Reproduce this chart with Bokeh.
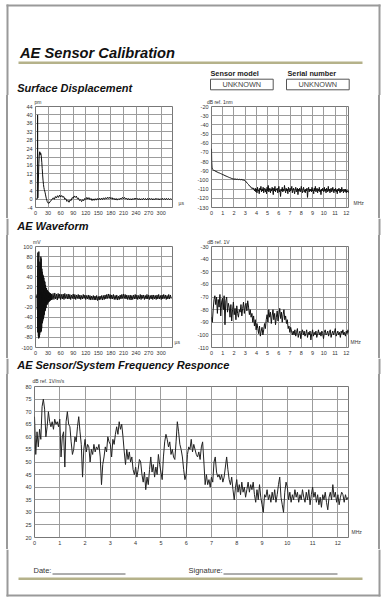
import numpy as np
from bokeh.plotting import figure
from bokeh.layouts import column, row
from bokeh.models import Range1d, FixedTicker, LinearAxis, Spacer
from bokeh.embed import file_html
from bokeh.resources import INLINE
from bokeh.core.properties import value

FONT = "Liberation Sans"
BORDER = "#9a9a9a"
GRID = "#9c9c9c"
OUTLINE = "#777777"
OLIVE = "#b5b28a"
TRACE = "#111111"

# ---------------- data ----------------
# Surface displacement (pm) vs time (us)
sd_pulse_t = [0, 1, 2, 3, 4, 4.5, 5, 5.5, 6, 7, 8, 9, 10, 11, 12, 13, 14, 15, 16, 17, 18, 19, 20,
              21, 22, 23, 24, 25, 26, 27, 28, 29, 30, 31, 32, 33, 34, 35, 36, 37, 38, 39, 40]
sd_pulse_v = [0, 0.1, -0.1, 0.2, 0, 0.3, 40, 0.5, 3, 10, 17, 21, 22.5, 21, 22, 21.5, 20, 17.5, 14.5,
              11.5, 9, 7, 5.5, 4.5, 3.8, 3, 2, 1, 0.2, -0.5, -1.2, -1.6, -1.9, -2, -1.7, -1.9, -1.4,
              -1.2, -0.9, -0.8, -0.4, -0.3, 0]
sd_tail_t0, sd_tail_dt = 42.5, 2.5
sd_tail_v = [0.6, -0.1, 1.2, 0.5, 1.6, 0.8, 1.9, 1.0, 1.7, 0.9,
             1.2, -0.1, 0.2, -1.1, -0.6, -1.5, -0.4, -0.7, 0.7, 0.4,
             1.5, 0.8, 1.4, 0.2, 0.5, -0.7, -0.3, -1.2, -0.3, -0.8,
             0.3, -0.2, 0.8, 0.0, 0.7, -0.3, 0.3, -0.7, 0.1, -0.6,
             0.2, -0.5, 0.3, -0.4, 0.4, -0.3, 0.5, -0.2, 0.6, -0.1,
             0.7, 0.1, 0.9, 0.2, 0.9, 0.1, 0.7, -0.1, 0.4, -0.4,
             0.3, -0.5, 0.2, -0.3, 0.5, 0.0, 0.8, 0.1, 0.8, 0.0,
             0.5, -0.3, 0.3, -0.4, 0.2, -0.4, 0.3, -0.2, 0.5, -0.1,
             0.4, -0.3, 0.3, -0.4, 0.2, -0.3, 0.4, -0.2, 0.3, -0.4,
             0.3, -0.3, 0.4, -0.2, 0.3, -0.4, 0.2, -0.3, 0.4, -0.2,
             0.3, -0.4, 0.2, -0.3, 0.4, -0.2, 0.3, -0.3, 0.4, -0.2,
             0.3, -0.3, 0.2, -0.2]
sd_xticks = [0, 30, 60, 90, 120, 150, 180, 210, 240, 270, 300]
sd_yticks = [-4, 0, 4, 8, 12, 16, 20, 24, 28, 32, 36, 40, 44]

# Surface displacement spectrum (dB ref. 1nm) vs MHz
ss_f_a = [0, 0.02, 0.05, 0.1, 0.2, 0.3, 0.4, 0.5, 0.6, 0.7, 0.8, 0.9, 1.0, 1.1, 1.2, 1.3, 1.4, 1.5,
          1.6, 1.7, 1.8, 1.9, 2.0, 2.1, 2.2, 2.3, 2.4, 2.5, 2.6, 2.7, 2.8, 2.9, 3.0, 3.1, 3.2, 3.3,
          3.4, 3.5, 3.6, 3.7, 3.8]
ss_v_a = [-66, -80, -87, -88.5, -89.5, -90, -90.8, -91.3, -92, -92.4, -93, -93.5, -94.2, -94.6,
          -95.3, -95.8, -96.3, -96.9, -97.4, -97.8, -98.4, -98.8, -99.2, -98.9, -99.4, -99.1,
          -99.6, -99.3, -99.8, -99.5, -100.2, -100.0, -101, -102.2, -103.8, -105, -106.8, -107.5,
          -109.5, -108.6, -111]
ss_noise_f0, ss_noise_df = 3.85, 0.05
ss_noise_v = [-112, -109, -113, -110, -114, -108, -112, -111, -115, -109,
              -111, -107, -113, -110, -112, -108, -114, -110, -109, -113,
              -110, -115, -108, -112, -106, -113, -111, -109, -114, -110,
              -112, -108, -111, -116, -109, -112, -107, -113, -110, -111,
              -109, -114, -110, -107, -113, -111, -118, -110, -112, -108,
              -113, -110, -112, -106, -111, -114, -109, -112, -110, -115,
              -108, -111, -113, -109, -112, -110, -107, -114, -111, -109,
              -112, -115, -110, -108, -113, -111, -109, -116, -110, -112,
              -109, -113, -111, -107, -112, -114, -110, -108, -113, -111,
              -114, -110, -112, -109, -119, -111, -108, -113, -110, -112,
              -110, -113, -108, -112, -111, -115, -109, -112, -107, -113,
              -111, -109, -114, -110, -112, -108, -113, -111, -116, -110,
              -112, -109, -111, -113, -108, -112, -110, -114, -109, -111,
              -113, -107, -112, -110, -114, -111, -109, -113, -112, -108,
              -111, -114, -110, -112, -109, -113, -111, -115, -110, -112,
              -109, -112, -114, -110, -113, -108, -112, -111, -114, -110,
              -112, -113, -110, -114, -111, -113, -112, -114, -111, -113]
mhz_xticks = [0, 1, 2, 3, 4, 5, 6, 7, 8, 9, 10, 11, 12]
ss_yticks = [-130, -120, -110, -100, -90, -80, -70, -60, -50, -40, -30, -20]

# AE waveform (mV) vs time (us)
wf_pre_t = [0, 1, 2, 3]
wf_pre_v = [0.5, -0.5, 0.4, -0.3]
wf_burst_t0, wf_burst_dt = 4.0, 0.4
wf_burst_v = [5, -25, 55, -70, 88, -60, 75, -78, 40, -82,
              90, -45, 70, -80, 55, -75, 30, -66, 60, -35,
              68, -70, 80, -50, 76, -68, 45, -62, 56, -30,
              50, -52, 35, -48, 44, -25, 42, -44, 20, -40,
              38, -36, 15, -34, 32, -18, 30, -28, 12, -26,
              24, -20, 10, -22, 18, -12, 17, -16, 8, -15,
              14, -10, 12, -13, 6, -11, 11, -7, 10, -10,
              5, -9, 9, -6, 8, -8, 4, -7, 7, -5,
              7, -6, 4, -6, 6, -4, 6, -5, 3, -5, 5]
wf_tail_t0, wf_tail_dt = 42, 2
wf_tail_v = [7, -5, 8, -4, 6, -6, 7, -3, 6, -5,
             5, -4, 6, -5, 7, -3, 5, -4, 6, -4,
             5, -5, 4, -3, 6, -4, 5, -5, 4, -3,
             5, -4, 4, -5, 3, -4, 5, -3, 4, -5,
             3, -4, 4, -5, 3, -6, 2, -5, 3, -6,
             2, -6, 3, -7, 1, -6, 2, -5, 3, -6,
             3, -5, 4, -4, 5, -3, 6, -3, 5, -4,
             4, -4, 5, -5, 3, -5, 4, -6, 2, -5,
             4, -4, 5, -3, 6, -3, 5, -4, 4, -5,
             3, -5, 4, -6, 3, -5, 4, -4, 5, -4,
             4, -5, 3, -4, 5, -5, 4, -3, 4, -5,
             3, -4, 5, -4, 4, -5, 3, -4, 4, -5,
             4, -4, 3, -5, 4, -4, 5, -4, 3, -5,
             4, -4, 5, -3, 4, -5, 3, -4, 5, -4,
             4, -3]
wf_yticks = [-100, -80, -60, -40, -20, 0, 20, 40, 60, 80, 100]

# AE waveform spectrum (dB ref. 1V) vs MHz
ws_f0, ws_df = 0.0, 0.075
ws_v = [-86, -90, -80, -72, -69,
        -76, -70, -83, -72, -78, -68, -85, -74, -71, -80, -69, -92, -73, -70, -82, -75,
        -78, -86, -76, -89, -80, -74, -84, -79, -88, -77, -83, -86, -80,
        -82, -76, -85, -79, -74, -83, -77, -75, -81, -73, -78, -84, -80,
        -86, -83, -90, -85, -93, -88, -96, -91, -95, -99, -93, -101, -97, -94, -100, -96, -91, -95,
        -88, -84, -90, -80, -86, -82, -91, -85, -80, -88, -83, -92, -86, -81, -89, -84, -79, -87,
        -82, -90, -84, -80, -88, -85,
        -91, -88, -95, -93, -98, -94, -97, -100,
        -97, -100, -96, -101, -98, -95, -102, -99, -97, -103, -98, -96, -100, -97, -101, -99,
        -96, -102, -98, -100,
        -97, -104, -99, -96, -101, -98, -100, -97, -102, -99, -96, -100, -98, -101, -97, -99,
        -103, -98, -96, -100,
        -99, -97, -101, -98, -96, -102, -99, -97, -100, -98, -95, -101, -99, -97, -100, -98,
        -102, -97, -99, -96,
        -100, -98, -101, -97, -99, -96, -98, -97]
ws_yticks = [-110, -100, -90, -80, -70, -60, -50, -40, -30]

# Sensor/system frequency response (dB ref. 1V/m/s) vs MHz
fr_f0, fr_df = 0.0, 0.05
fr_v = [68, 53, 62, 56, 63, 59, 72, 75, 71, 60,
        64, 70, 66, 64, 66, 63, 67, 65, 66, 64,
        67, 52, 60, 62, 48, 66, 70, 65, 64, 58,
        53, 55, 60, 58, 64, 68, 62, 57, 44, 55,
        59, 54, 57, 56, 50, 55, 53, 57, 54, 56,
        55, 57, 52, 41, 49, 52, 56, 54, 60, 58,
        57, 52, 59, 57, 61, 64, 61, 66, 63, 65,
        60, 54, 49, 55, 51, 54, 50, 52, 47, 45,
        48, 44, 47, 51, 50, 45, 42, 46, 39, 44,
        41, 47, 52, 46, 49, 44, 48, 45, 53, 49,
        46, 43, 52, 58, 61, 59, 56, 58, 53, 55,
        52, 51, 58, 66, 62, 57, 55, 52, 47, 43,
        45, 53, 56, 55, 59, 54, 57, 55, 53, 52,
        54, 51, 56, 58, 50, 41, 45, 41, 43, 40,
        44, 42, 50, 52, 46, 44, 45, 43, 45, 42,
        44, 48, 52, 47, 43, 41, 44, 39, 35, 40,
        43, 38, 41, 37, 42, 38, 40, 36, 39, 42,
        38, 41, 39, 42, 37, 34, 39, 35, 41, 36,
        33, 30, 37, 36, 39, 35, 37, 34, 38, 35,
        39, 34, 37, 41, 44, 36, 33, 30, 38, 42,
        40, 35, 38, 34, 37, 35, 39, 36, 38, 34,
        37, 35, 39, 36, 34, 38, 35, 39, 33, 37,
        40, 36, 38, 34, 37, 33, 36, 32, 37, 35,
        38, 34, 31, 36, 38, 35, 41, 36, 38, 34,
        37, 33, 36, 38, 37, 34, 37, 35, 36]
fr_yticks = [20, 25, 30, 35, 40, 45, 50, 55, 60, 65, 70, 75, 80]

# ---------------- helpers ----------------
W = 386


def deco(h):
    p = figure(width=W, height=h, x_range=Range1d(0, W), y_range=Range1d(h, 0),
               x_axis_location=None, y_axis_location=None, toolbar_location=None,
               output_backend="svg", min_border=0, title=None)
    p.grid.visible = False
    p.outline_line_color = None
    p.background_fill_color = "white"
    p.border_fill_color = "white"
    return p


def sides(p, y0, y1):
    p.segment(x0=[7, 379], y0=[y0, y0], x1=[7, 379], y1=[y1, y1], line_color=BORDER, line_width=2)


def txt(p, x, y, s, size, style="normal", color="#111", align="left"):
    # y is the vertical centre of the capital letters
    p.text(x=[x], y=[y], text=[s], text_font=value(FONT), text_font_size=size,
           text_font_style=style, text_color=color, text_align=align, text_baseline="middle")


def style_axis(ax, size, standoff):
    ax.axis_line_color = None
    ax.major_tick_line_color = None
    ax.minor_tick_line_color = None
    ax.major_tick_out = 0
    ax.major_tick_in = 0
    ax.minor_tick_out = 0
    ax.minor_tick_in = 0
    ax.major_label_text_font = FONT
    ax.major_label_text_font_size = size
    ax.major_label_text_color = "#333333"
    ax.major_label_standoff = standoff


def chart(w, h, ml, mr, mt, mb, xr, yr, xt, yt, top_unit, right_unit):
    p = figure(width=w, height=h, x_range=Range1d(*xr), y_range=Range1d(*yr),
               toolbar_location=None, output_backend="svg", title=None,
               min_border_left=ml, min_border_right=mr, min_border_top=mt, min_border_bottom=mb)
    p.xaxis.ticker = FixedTicker(ticks=xt)
    p.yaxis.ticker = FixedTicker(ticks=yt)
    p.xaxis.major_label_overrides = {t: str(t) for t in xt}
    p.yaxis.major_label_overrides = {t: str(t) for t in yt}
    for ax in (p.xaxis, p.yaxis):
        style_axis(ax, "5.5px", 3)
    p.grid.grid_line_color = GRID
    p.grid.grid_line_width = 1
    p.outline_line_color = OUTLINE
    p.outline_line_width = 1
    p.background_fill_color = "white"
    p.border_fill_color = "white"
    # unit of the y values: a label above the frame
    tx, ttext, tso = top_unit
    top = LinearAxis(ticker=FixedTicker(ticks=[tx]), major_label_overrides={tx: ttext})
    style_axis(top, "5px", tso)
    p.add_layout(top, "above")
    # unit of the x values: a label right of the frame, near the bottom
    ry, rtext, rso = right_unit
    right = LinearAxis(ticker=FixedTicker(ticks=[ry]), major_label_overrides={ry: rtext})
    style_axis(right, "5px", rso)
    p.add_layout(right, "right")
    return p


def edge(h):
    return [Spacer(width=6, height=h), Spacer(width=2, height=h, styles={"background-color": BORDER})]


def edge_r(h):
    return [Spacer(width=2, height=h, styles={"background-color": BORDER}), Spacer(width=6, height=h)]


# ---------------- header (y 0..95) ----------------
hdr = deco(95)
hdr.segment(x0=[6], y0=[5], x1=[380], y1=[5], line_color=BORDER, line_width=2)
sides(hdr, 4, 95)
txt(hdr, 19.5, 52, "AE Sensor Calibration", "14.7px", "bold italic")
hdr.segment(x0=[18], y0=[62.3], x1=[362], y1=[62.3], line_color=OLIVE, line_width=2.5)
txt(hdr, 210, 73.2, "Sensor model", "7.3px", "bold", "#222")
txt(hdr, 287, 73.2, "Serial number", "7.3px", "bold", "#222")
hdr.quad(left=[210, 286], right=[272.7, 348.7], top=[78.7, 78.7], bottom=[89.3, 89.3],
         fill_color="white", line_color="#555555", line_width=1)
txt(hdr, 241.3, 84.1, "UNKNOWN", "7.3px", "normal", "#444", "center")
txt(hdr, 317.3, 84.1, "UNKNOWN", "7.3px", "normal", "#444", "center")
txt(hdr, 16.7, 87.2, "Surface Displacement", "11px", "bold italic")

# ---------------- row B (y 95..218) ----------------
sd_t = sd_pulse_t + list(sd_tail_t0 + sd_tail_dt * np.arange(len(sd_tail_v)))
sd_v = sd_pulse_v + sd_tail_v
c1 = chart(182, 123, 27, 18, 8, 11, (0, 327), (-4, 44), sd_xticks, sd_yticks,
           (6.0, "pm", 2), (-1.7, "\u00b5s", 6))
c1.line(sd_t, sd_v, line_color=TRACE, line_width=1)

ss_f = ss_f_a + list(ss_noise_f0 + ss_noise_df * np.arange(len(ss_noise_v)))
ss_v = ss_v_a + ss_noise_v
c2 = chart(188, 123, 21, 30, 8, 11, (0, 12.2), (-130, -20), mhz_xticks, ss_yticks,
           (0.74, "dB ref. 1nm", 2), (-124.7, "MHz", 5))
c2.line(ss_f, ss_v, line_color=TRACE, line_width=1)

rowB = row(*edge(123), c1, c2, *edge_r(123))

# ---------------- heading (y 218..235) ----------------
hC = deco(17)
sides(hC, 0, 17)
txt(hC, 16.7, 7.6, "AE Waveform", "11px", "bold italic")

# ---------------- row D (y 235..358) ----------------
wf_t = wf_pre_t + list(wf_burst_t0 + wf_burst_dt * np.arange(len(wf_burst_v))) + \
       list(wf_tail_t0 + wf_tail_dt * np.arange(len(wf_tail_v)))
wf_v = wf_pre_v + wf_burst_v + wf_tail_v
c3 = chart(182, 123, 27, 18, 7, 11, (0, 327), (-100, 100), sd_xticks, wf_yticks,
           (3.1, "mV", 2), (-89.9, "\u00b5s", 2))
c3.line(wf_t, wf_v, line_color=TRACE, line_width=1)

ws_f = list(ws_f0 + ws_df * np.arange(len(ws_v)))
c4 = chart(188, 123, 21, 30, 7, 11, (0, 12.2), (-110, -30), mhz_xticks, ws_yticks,
           (0.62, "dB ref. 1V", 2), (-106, "MHz", 2))
c4.line(ws_f, ws_v, line_color=TRACE, line_width=1)

rowD = row(*edge(123), c3, c4, *edge_r(123))

# ---------------- heading (y 358..374) ----------------
hE = deco(16)
sides(hE, 0, 16)
txt(hE, 16.7, 6.2, "AE Sensor/System Frequency Responce", "11px", "bold italic")

# ---------------- row F (y 374..549) ----------------
fr_f = list(fr_f0 + fr_df * np.arange(len(fr_v)))
c5 = chart(370, 175, 26, 30, 8, 12, (0, 12.42), (20, 80), mhz_xticks, fr_yticks,
           (0.55, "dB ref. 1V/m/s", 3), (22.1, "MHz", 3))
c5.line(fr_f, fr_v, line_color="#222222", line_width=1)

rowF = row(*edge(175), c5, *edge_r(175))

# ---------------- footer (y 549..600) ----------------
ftr = deco(51)
sides(ftr, 0, 47)
ftr.segment(x0=[6], y0=[46], x1=[380], y1=[46], line_color=BORDER, line_width=2)
txt(ftr, 33, 21, "Date:", "7.5px", "normal", "#333")
txt(ftr, 188, 21, "Signature:", "7.5px", "normal", "#333")
ftr.segment(x0=[52, 223], y0=[24.5, 24.5], x1=[125, 337], y1=[24.5, 24.5],
            line_color="#333333", line_width=0.8)
ftr.segment(x0=[18], y0=[29.3], x1=[362], y1=[29.3], line_color=OLIVE, line_width=2.5)

layout = column(hdr, rowB, hC, rowD, hE, rowF, ftr)
open("out.html", "w").write(file_html(layout, INLINE, "AE Sensor Calibration"))
